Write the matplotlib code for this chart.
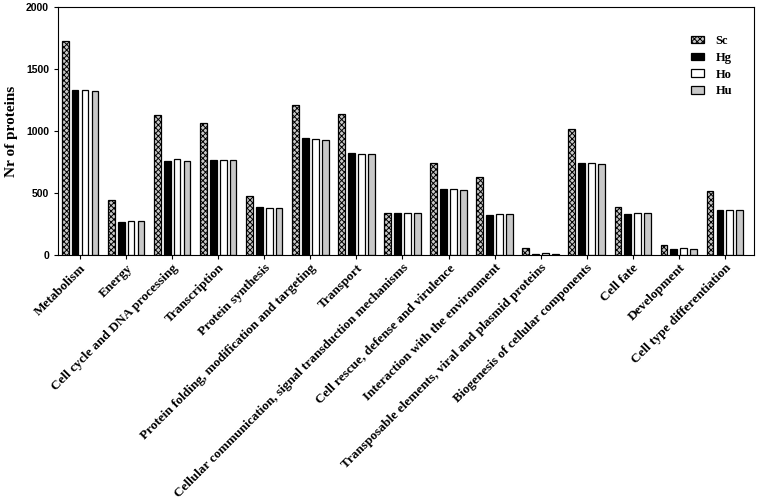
import numpy as np
import matplotlib
matplotlib.use("Agg")
import matplotlib.pyplot as plt

categories = [
    "Metabolism", "Energy", "Cell cycle and DNA processing", "Transcription",
    "Protein synthesis", "Protein folding, modification and targeting",
    "Transport", "Cellular communication, signal transduction mechanisms",
    "Cell rescue, defense and virulence", "Interaction with the environment",
    "Transposable elements, viral and plasmid proteins",
    "Biogenesis of cellular components", "Cell fate", "Development",
    "Cell type differentiation",
]
sc = [1726, 443, 1128, 1065, 480, 1210, 1135, 336, 739, 629, 56, 1016, 390, 83, 516]
hg = [1329, 268, 762, 765, 385, 945, 820, 336, 529, 320, 8, 744, 330, 51, 360]
ho = [1329, 277, 775, 765, 378, 932, 815, 336, 532, 328, 13, 742, 339, 56, 363]
hu = [1324, 271, 755, 765, 378, 925, 815, 336, 524, 328, 8, 736, 339, 51, 365]

series = ["Sc", "Hg", "Ho", "Hu"]
values = [sc, hg, ho, hu]
faces = ["#c8c8c8", "black", "white", "#c8c8c8"]
hatches = ["xxxxxx", None, None, None]

plt.rcParams["hatch.linewidth"] = 0.7
serif = "Liberation Serif"

fig = plt.figure(figsize=(7.58, 5.03), dpi=100)
ax = fig.add_axes([0.0765, 0.493, 0.918, 0.493])

x = np.arange(len(categories))
step = 0.215
width = 0.145
for i, (name, vals) in enumerate(zip(series, values)):
    ax.bar(x + (i - 1.5) * step, vals, width, color=faces[i], edgecolor="black",
           linewidth=0.9, hatch=hatches[i], label=name)

ax.set_xlim(-0.48, 14.63)
ax.set_ylim(0, 2000)
ax.set_yticks([0, 500, 1000, 1500, 2000])
ax.set_xticks(x)
ax.set_xticklabels(categories, rotation=45, ha="right", rotation_mode="anchor",
                   fontfamily=serif, fontweight="bold", fontsize=9.5)
for lab in ax.get_yticklabels():
    lab.set_fontweight("bold")
    lab.set_fontsize(7.5)
    lab.set_fontfamily("Liberation Sans")
ax.tick_params(axis="both", direction="out", length=3, width=0.8)
ax.tick_params(axis="x", pad=2)
for s in ax.spines.values():
    s.set_linewidth(0.8)

ax.set_ylabel("Nr of proteins", fontfamily=serif, fontweight="bold", fontsize=11, labelpad=6)

leg = ax.legend(loc="upper right", bbox_to_anchor=(0.985, 0.932), frameon=False,
                prop={"family": serif, "weight": "bold", "size": 9},
                handlelength=1.05, handleheight=0.55, handletextpad=0.9, labelspacing=0.38)

fig.savefig("out.png", dpi=100)
